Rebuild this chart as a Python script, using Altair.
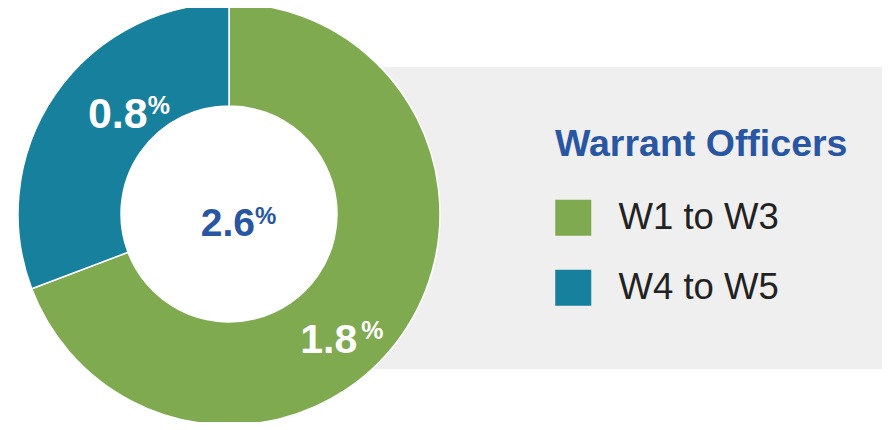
import math
import altair as alt
import pandas as pd

# ---- data ----
categories = ["W1 to W3", "W4 to W5"]
values = [1.8, 0.8]
colors = ["#80aa50", "#17809d"]
total_label = ["2.6"]
legend_title = "Warrant Officers"

# ---- layout constants ----
W, H = 874, 414
CX, CY = 221, 206
R_OUT, R_IN = 211, 108
R_LAB = (R_OUT + R_IN) / 2
FONT = "Liberation Sans"
BLUE = "#2956a3"

df = pd.DataFrame({"group": categories, "value": values})
df["rank"] = range(len(df))
tot = df["value"].sum()
cum = df["value"].cumsum()
ang = 2 * math.pi * (cum - df["value"] / 2) / tot
df["lx"] = CX + R_LAB * ang.map(math.sin)
df["ly"] = CY - R_LAB * ang.map(math.cos)
df["label"] = df["value"].map(lambda v: f"{v:.1f}")
df["pct"] = "%"

one = pd.DataFrame({"a": [0]})
band = alt.Chart(one).mark_rect(color="#efefef").encode(
    x=alt.value(CX), x2=alt.value(W), y=alt.value(59), y2=alt.value(361)
)
hole = alt.Chart(one).mark_arc(
    color="white", outerRadius=R_IN + 2, innerRadius=0, theta=0, theta2=2 * math.pi
).encode(x=alt.value(CX), y=alt.value(CY))

color = alt.Color(
    "group:N",
    scale=alt.Scale(domain=categories, range=colors),
    legend=alt.Legend(
        title=legend_title,
        orient="none",
        legendX=547,
        legendY=118,
        padding=0,
        titleFont=FONT,
        titleFontSize=37.5,
        titleFontWeight="bold",
        titleColor=BLUE,
        titlePadding=36,
        titleLimit=600,
        labelFont=FONT,
        labelFontSize=36.5,
        labelColor="#222222",
        labelLimit=400,
        labelOffset=27,
        symbolType="square",
        symbolSize=1296,
        symbolStrokeWidth=0,
        symbolOpacity=1,
        rowPadding=33,
    ),
)

arcs = alt.Chart(df).mark_arc(
    outerRadius=R_OUT, innerRadius=R_IN, stroke="white", strokeWidth=1.5
).encode(
    theta=alt.Theta("value:Q", stack=True),
    color=color,
    order=alt.Order("rank:Q"),
    x=alt.value(CX),
    y=alt.value(CY),
)


def seg_label(group, fs, dx, dy, pdx, pdy):
    b = alt.Chart(df).transform_filter(alt.datum.group == group)
    num = b.mark_text(
        align="right", baseline="alphabetic", font=FONT, fontSize=fs,
        fontWeight="bold", color="white", dx=dx, dy=dy,
    ).encode(x=alt.X("lx:Q", scale=None), y=alt.Y("ly:Q", scale=None), text="label:N")
    pct = b.mark_text(
        align="left", baseline="alphabetic", font=FONT, fontSize=25,
        fontWeight="bold", color="white", dx=pdx, dy=pdy,
    ).encode(x=alt.X("lx:Q", scale=None), y=alt.Y("ly:Q", scale=None), text="pct:N")
    return [num, pct]


lab_teal = seg_label(categories[1], 43, 50, 5, 50, -9)
lab_green = seg_label(categories[0], 41, -3, 48, 1, 34)

cdf = pd.DataFrame({"label": total_label, "pct": ["%"]})
c_num = alt.Chart(cdf).mark_text(
    align="right", baseline="alphabetic", font=FONT, fontSize=39,
    fontWeight="bold", color=BLUE, dx=26, dy=22,
).encode(x=alt.value(CX), y=alt.value(CY), text="label:N")
c_pct = alt.Chart(cdf).mark_text(
    align="left", baseline="alphabetic", font=FONT, fontSize=24,
    fontWeight="bold", color=BLUE, dx=26, dy=10,
).encode(x=alt.value(CX), y=alt.value(CY), text="pct:N")

chart = alt.layer(band, hole, arcs, *lab_teal, *lab_green, c_num, c_pct).properties(
    width=W, height=H, padding=0, autosize=alt.AutoSizeParams(type="none"),
    background="white",
).configure_view(stroke=None)

chart.save("out.html", embed_options={"renderer": "svg", "actions": False})
